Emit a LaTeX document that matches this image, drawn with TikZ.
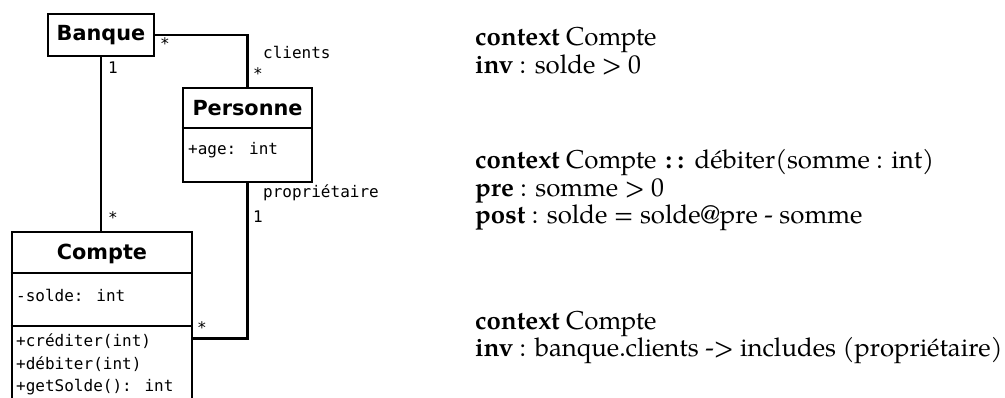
\documentclass[tikz,border=0pt]{standalone}
\usepackage{fontspec}
\newfontfamily\umlsans{DejaVu Sans}
\newfontfamily\umlmono{DejaVu Sans Mono}
\newfontfamily\oclfont{TeX Gyre Pagella}
\begin{document}
\begin{tikzpicture}[x=1pt,y=-1pt,
  box/.style={draw, line width=2.8pt, rectangle, inner sep=0pt},
  title/.style={font=\umlsans\bfseries\fontsize{20.8}{24}\selectfont, inner sep=0pt},
  mono/.style={font=\umlmono\fontsize{16}{18}\selectfont, anchor=west, inner sep=0pt},
  lbl/.style={font=\umlmono\fontsize{16}{18}\selectfont, inner sep=0pt},
  conn/.style={line width=2.8pt},
  ocl/.style={font=\oclfont\fontsize{25.8}{28}\selectfont, anchor=base west, inner sep=0pt}]
\useasboundingbox (0,0) rectangle (1005,398);
\clip (0,0) rectangle (1005,398);
% classes
\node[box, minimum width=106pt, minimum height=42pt] (banque) at (101,35) {};
\node[title] (banquet) at (101,35) {Banque};
\node[box, minimum width=129pt, minimum height=94pt] (personne) at (247.5,135) {};
\node[title] (personnet) at (247.5,108) {Personne};
\draw[conn] (personne.west |- 0,128) -- (personne.east |- 0,128);
\node[mono] (age) at (188,150) {+age: int};
\node[box, minimum width=180pt, minimum height=178pt] (compte) at (102,321) {};
\node[title] (comptet) at (102,254) {Compte};
\draw[conn] (compte.west |- 0,273) -- (compte.east |- 0,273);
\draw[conn] (compte.west |- 0,326) -- (compte.east |- 0,326);
\node[mono] (solde) at (16,295) {-solde: int};
\node[mono] (cred) at (16,341) {+créditer(int)};
\node[mono] (deb) at (16,364) {+débiter(int)};
\node[mono] (gets) at (16,387) {+getSolde(): int};
% connectors
\draw[conn] (banque.east) -| (personne.north);
\draw[conn] (banque.south) -- (banque.south |- compte.north);
\draw[conn] (personne.south) |- ([yshift=-108pt]compte.north east);
% labels
\node[lbl] (m1) at (165,44) {*};
\node[lbl, anchor=west] (cl) at (263,52) {clients};
\node[lbl] (m2) at (258,74) {*};
\node[lbl] (m3) at (113,68) {1};
\node[lbl] (m4) at (113,218) {*};
\node[lbl, anchor=west] (pr) at (263,193) {propriétaire};
\node[lbl] (m5) at (258,217) {1};
\node[lbl] (m6) at (202,328) {*};
% OCL
\node[ocl] (c1) at (475,46) {\textbf{context} Compte};
\node[ocl] (i1) at (475,74) {\textbf{inv} : solde > 0};
\node[ocl] (c2) at (475,169) {\textbf{context} Compte\hspace{0.35em}\textbf{:\hspace{0.22em}:}\hspace{0.4em}débiter(somme : int)};
\node[ocl] (p2) at (475,197) {\textbf{pre} : somme > 0};
\node[ocl] (q2) at (475,224) {\textbf{post} : solde = solde@pre - somme};
\node[ocl] (c3) at (475,330) {\textbf{context} Compte};
\node[ocl] (i3) at (475,356) {\textbf{inv} : banque.clients -> includes (propriétaire)};
\end{tikzpicture}
\end{document}
